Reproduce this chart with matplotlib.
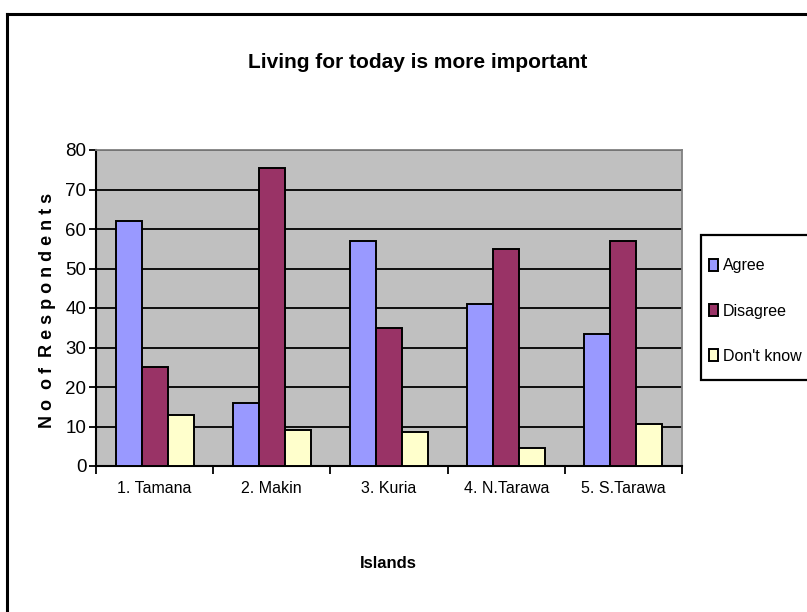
import matplotlib
matplotlib.use("Agg")
import matplotlib.pyplot as plt
import numpy as np
from matplotlib.lines import Line2D
from matplotlib.patches import Rectangle

islands = ["1. Tamana", "2. Makin", "3. Kuria", "4. N.Tarawa", "5. S.Tarawa"]
agree = [62, 16, 57, 41, 33.5]
disagree = [25, 75.5, 35, 55, 57]
dont_know = [13, 9, 8.6, 4.5, 10.7]
series_names = ["Agree", "Disagree", "Don't know"]
series_colors = ["#9999FF", "#993366", "#FFFFCC"]
y_ticks = [0, 10, 20, 30, 40, 50, 60, 70, 80]

plt.rcParams["font.family"] = ["Liberation Sans", "DejaVu Sans"]

W, H = 807, 612
fig = plt.figure(figsize=(W / 100, H / 100), dpi=100)
fig.patch.set_facecolor("white")

# outer chart frame (open to the right and bottom)
fig.add_artist(Line2D([7 / W, 7 / W], [0, 1 - 14 / H], color="black", lw=2.2,
                      transform=fig.transFigure))
fig.add_artist(Line2D([7 / W, 1], [1 - 14 / H, 1 - 14 / H], color="black", lw=2.2,
                      transform=fig.transFigure))

left, right, top, bottom = 96, 682, 150, 466
ax = fig.add_axes([left / W, 1 - bottom / H, (right - left) / W, (bottom - top) / H])
ax.set_facecolor("#C0C0C0")

x = np.arange(len(islands))
bw = 0.222
for i, (vals, col) in enumerate(zip([agree, disagree, dont_know], series_colors)):
    ax.bar(x + (i - 1) * bw, vals, width=bw, color=col, edgecolor="black",
           linewidth=1.4, zorder=3, label=series_names[i])

ax.set_xlim(-0.5, len(islands) - 0.5)
ax.set_ylim(0, 80)
ax.set_yticks(y_ticks)
ax.set_yticklabels([str(v) for v in y_ticks], fontsize=13.5)
ax.yaxis.grid(True, color="black", linewidth=1.3, zorder=1)
ax.set_axisbelow(True)

ax.set_xticks(x)
ax.set_xticklabels(islands, fontsize=11.5)
ax.set_xticks(np.arange(-0.5, len(islands)), minor=True)
ax.tick_params(axis="x", which="major", length=0, pad=11)
ax.tick_params(axis="x", which="minor", length=6, width=1.3, color="black")
ax.tick_params(axis="y", length=5, width=1.3, pad=2)

for s in ["left", "bottom"]:
    ax.spines[s].set_color("black")
    ax.spines[s].set_linewidth(1.5)
for s in ["top", "right"]:
    ax.spines[s].set_color("#808080")
    ax.spines[s].set_linewidth(1.3)

fig.text(418 / W, 1 - 63 / H, "Living for today is more important",
         ha="center", va="center", fontsize=15, fontweight="bold")
fig.text(48 / W, 1 - 310 / H, "N o  o f  R e s p o n d e n t s", rotation=90,
         ha="center", va="center", fontsize=13, fontweight="bold")
fig.text(388 / W, 1 - 563 / H, "Islands", ha="center", va="center",
         fontsize=12, fontweight="bold")

# legend frame runs past the right edge of the figure
fig.add_artist(Rectangle((701 / W, 1 - 380 / H), 130 / W, 145 / H,
                         transform=fig.transFigure, facecolor="white",
                         edgecolor="black", linewidth=1.6, clip_on=False))
leg = fig.legend(loc="upper left", bbox_to_anchor=(698 / W, 1 - 247 / H),
                 bbox_transform=fig.transFigure, frameon=False, fontsize=11.5,
                 handlelength=0.55, handleheight=0.8, handletextpad=0.3,
                 labelspacing=1.9, borderpad=0.2)

fig.savefig("out.png", dpi=100)
